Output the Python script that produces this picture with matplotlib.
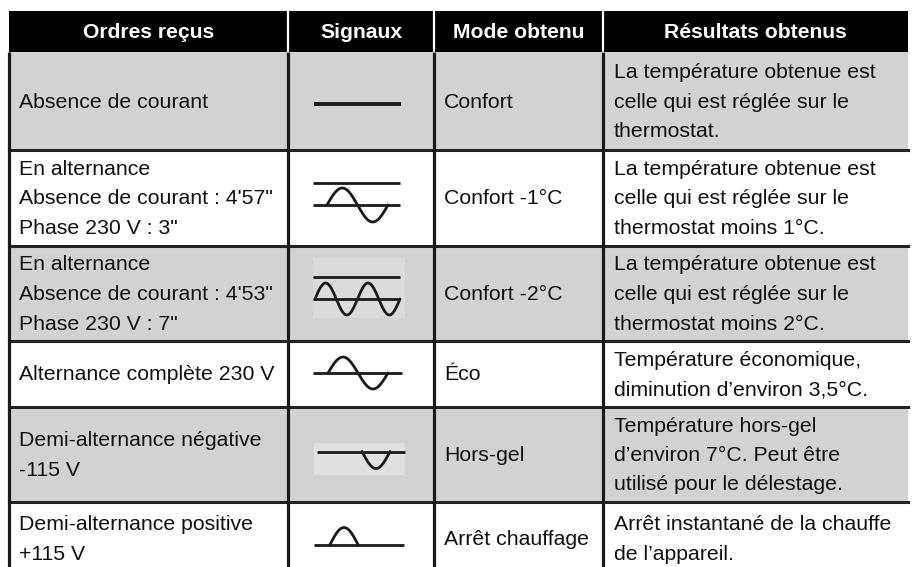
import numpy as np
import matplotlib
matplotlib.use("Agg")
import matplotlib.pyplot as plt
from matplotlib.patches import Rectangle

# ---- data ----
headers = ["Ordres reçus", "Signaux", "Mode obtenu", "Résultats obtenus"]
orders = [
    ["Absence de courant"],
    ["En alternance", "Absence de courant : 4'57\"", "Phase 230 V : 3\""],
    ["En alternance", "Absence de courant : 4'53\"", "Phase 230 V : 7\""],
    ["Alternance complète 230 V"],
    ["Demi-alternance négative", "-115 V"],
    ["Demi-alternance positive", "+115 V"],
]
signals = ["flat", "confort1", "confort2", "full", "neg_half", "pos_half"]
modes = ["Confort", "Confort -1°C", "Confort -2°C", "Éco", "Hors-gel", "Arrêt chauffage"]
results = [
    ["La température obtenue est", "celle qui est réglée sur le", "thermostat."],
    ["La température obtenue est", "celle qui est réglée sur le", "thermostat moins 1°C."],
    ["La température obtenue est", "celle qui est réglée sur le", "thermostat moins 2°C."],
    ["Température économique,", "diminution d\u2019environ 3,5°C."],
    ["Température hors-gel", "d\u2019environ 7°C. Peut être", "utilisé pour le délestage."],
    ["Arrêt instantané de la chauffe", "de l\u2019appareil."],
]
shaded = [True, False, True, False, True, False]

# ---- layout (pixels) ----
W, H = 913, 567
col_edges = [9, 288, 434, 603, 908]
row_edges = [11, 52, 150, 246, 341, 407, 502, 575]
GRAY = "#d1d2d4"
LINE = "#1a1a1a"
FONT = "Liberation Sans"
FS = 15.3
HFS = 15.2
LSP = 29.5
PAD = 10

fig = plt.figure(figsize=(W / 100, H / 100), dpi=100)
ax = fig.add_axes([0, 0, 1, 1])
ax.set_xlim(0, W)
ax.set_ylim(H, 0)
ax.axis("off")

# header
ax.add_patch(Rectangle((col_edges[0], row_edges[0]), col_edges[-1] - col_edges[0],
                       row_edges[1] - row_edges[0], color="black", lw=0, zorder=1))
for i, h in enumerate(headers):
    cx = (col_edges[i] + col_edges[i + 1]) / 2
    ax.text(cx, (row_edges[0] + row_edges[1]) / 2 + 0.5, h, color="white", fontsize=HFS,
            fontweight="bold", family=FONT, ha="center", va="center", zorder=3)
for x in col_edges[1:-1]:
    ax.plot([x, x], [row_edges[0], row_edges[1]], color="white", lw=1.6, zorder=2)

# body fills
for r in range(len(orders)):
    y0, y1 = row_edges[r + 1], row_edges[r + 2]
    if shaded[r]:
        ax.add_patch(Rectangle((col_edges[0], y0), col_edges[-1] - col_edges[0], y1 - y0,
                               color=GRAY, lw=0, zorder=1))


def draw_lines(lines, x, cy, ha="left"):
    n = len(lines)
    for k, t in enumerate(lines):
        y = cy + (k - (n - 1) / 2) * LSP
        ax.text(x, y, t, fontsize=FS, family=FONT, color="#111111", ha=ha,
                va="center", zorder=3)


def sine(x0, x1, axis_y, amp, periods):
    xs = np.linspace(x0, x1, 200)
    ph = (xs - x0) / (x1 - x0) * periods * 2 * np.pi
    ax.plot(xs, axis_y - amp * np.sin(ph), color=LINE, lw=2.0, zorder=4,
            solid_capstyle="round")


def hline(x0, x1, y, lw=2.0):
    ax.plot([x0, x1], [y, y], color=LINE, lw=lw, zorder=4, solid_capstyle="butt")


def draw_signal(kind, cy):
    if kind == "flat":
        hline(314, 401, cy + 3, lw=2.8)
    elif kind == "confort1":
        hline(313, 400, cy - 15)
        hline(313, 400, cy + 7)
        sine(327, 388, cy + 7, 17, 1)
    elif kind == "confort2":
        ax.add_patch(Rectangle((313, cy - 36), 92, 60, color="#dadbdc", lw=0, zorder=2))
        hline(313, 400, cy - 16.5)
        hline(313, 400, cy + 5.5)
        sine(315, 400, cy + 5.5, 16, 2)
    elif kind == "full":
        hline(313, 402, cy - 1)
        sine(328, 388, cy - 1, 16, 1)
    elif kind == "neg_half":
        ax.add_patch(Rectangle((314, cy - 12), 91, 32, color="#dfe0e1", lw=0, zorder=2))
        hline(317, 405, cy - 3)
        sine(362, 390, cy - 3, -17, 0.5)
    elif kind == "pos_half":
        hline(314, 404, cy + 6)
        sine(330, 358, cy + 6, 17, 0.5)


for r in range(len(orders)):
    y0, y1 = row_edges[r + 1], row_edges[r + 2]
    cy = (y0 + min(y1, 575)) / 2 + 1
    draw_lines(orders[r], col_edges[0] + PAD, cy)
    draw_signal(signals[r], cy - 1)
    draw_lines([modes[r]], col_edges[2] + PAD, cy)
    draw_lines(results[r], col_edges[3] + PAD + 1, cy)

# grid lines
for y in row_edges[2:-1]:
    ax.plot([col_edges[0], col_edges[-1]], [y, y], color="#222222", lw=2.2, zorder=5)
for x in col_edges[:-1]:
    ax.plot([x, x], [row_edges[1], H + 5], color=LINE, lw=2.3, zorder=5,
            solid_capstyle="butt")

fig.savefig("out.png", dpi=100)
